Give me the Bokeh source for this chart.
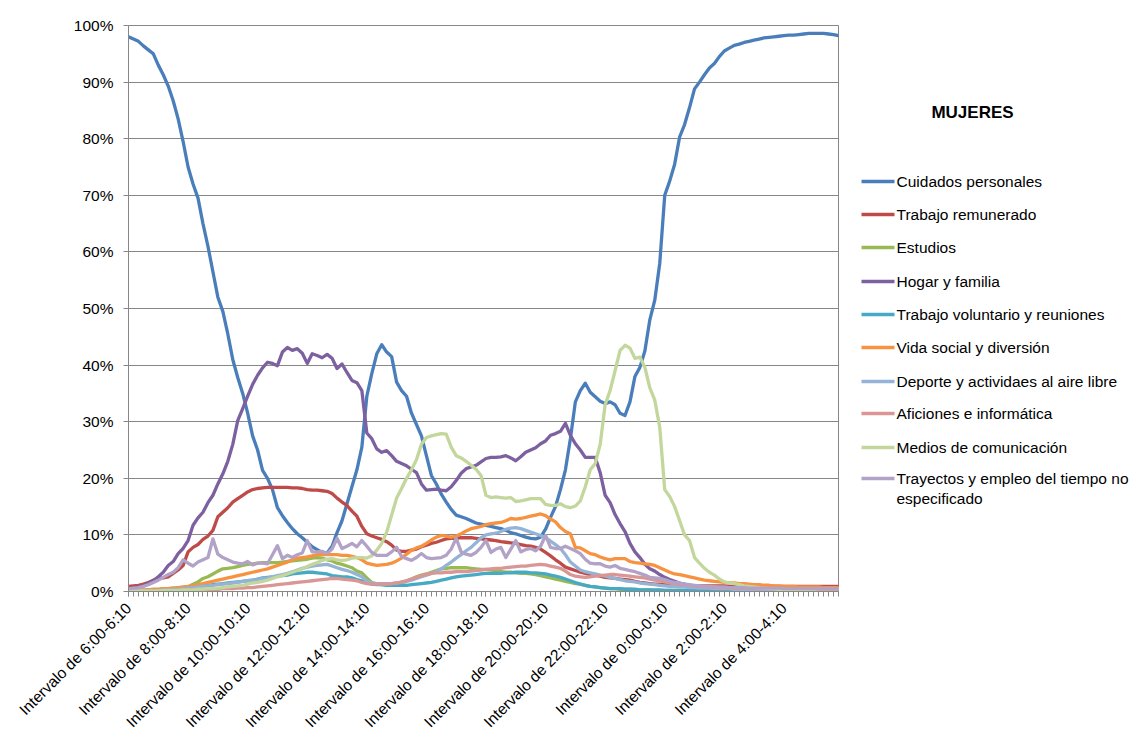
from math import pi
from bokeh.plotting import figure
from bokeh.layouts import row
from bokeh.models import Range1d, FixedTicker, PrintfTickFormatter
from bokeh.core.properties import value
from bokeh.embed import file_html
from bokeh.resources import INLINE

# 144 ten-minute intervals from 6:00 to 5:50 (index 0..143); labels every 2 hours
tick_positions = [0, 12, 24, 36, 48, 60, 72, 84, 96, 108, 120, 132]
tick_labels = ["Intervalo de 6:00-6:10", "Intervalo de 8:00-8:10", "Intervalo de 10:00-10:10",
               "Intervalo de 12:00-12:10", "Intervalo de 14:00-14:10", "Intervalo de 16:00-16:10",
               "Intervalo de 18:00-18:10", "Intervalo de 20:00-20:10", "Intervalo de 22:00-22:10",
               "Intervalo de 0:00-0:10", "Intervalo de 2:00-2:10", "Intervalo de 4:00-4:10"]

cuidados = [
    98.0, 97.6, 97.2, 96.4, 95.7, 95.0, 93.0, 91.3, 89.3, 86.7, 83.5, 79.5,
    75.0, 72.0, 69.5, 65.0, 61.0, 56.5, 52.0, 49.5, 45.5, 41.0, 37.8, 35.0,
    31.5, 27.5, 25.0, 21.4, 20.0, 18.0, 14.8, 13.4, 12.2, 11.1, 10.2, 9.5,
    8.7, 7.9, 7.4, 6.9, 6.8, 8.0, 10.4, 12.5, 15.5, 18.5, 21.5, 25.5,
    34.5, 38.5, 42.0, 43.6, 42.3, 41.5, 37.0, 35.5, 34.5, 31.5, 29.5, 27.5,
    24.0, 20.5, 19.0, 17.2, 15.8, 14.5, 13.5, 13.2, 12.9, 12.5, 12.1, 11.9,
    11.7, 11.5, 11.3, 11.1, 10.8, 10.4, 10.2, 9.9, 9.6, 9.4, 9.3, 9.6,
    11.0, 13.1, 15.0, 18.0, 21.5, 27.0, 33.5, 35.5, 36.8, 35.2, 34.4, 33.6,
    33.2, 33.5, 33.0, 31.5, 31.1, 33.5, 38.0, 39.6, 42.5, 48.0, 51.5, 58.0,
    70.0, 72.5, 75.5, 80.3, 82.5, 85.5, 88.8, 90.0, 91.3, 92.5, 93.3, 94.5,
    95.5, 96.0, 96.5, 96.7, 97.0, 97.2, 97.4, 97.6, 97.8, 97.9, 98.0, 98.1,
    98.2, 98.3, 98.3, 98.4, 98.5, 98.6, 98.6, 98.6, 98.6, 98.5, 98.4, 98.2]

trabajo = [
    0.9, 1.0, 1.1, 1.3, 1.6, 2.0, 2.3, 2.4, 2.6, 3.2, 3.8, 4.6,
    7.0, 7.8, 8.3, 9.2, 9.8, 10.8, 13.2, 14.0, 14.8, 15.8, 16.4, 17.0,
    17.6, 18.0, 18.2, 18.3, 18.4, 18.4, 18.4, 18.4, 18.4, 18.3, 18.3, 18.2,
    18.0, 17.9, 17.9, 17.8, 17.7, 17.3, 16.5, 15.8, 15.2, 14.2, 13.3, 11.5,
    10.2, 9.8, 9.5, 9.2, 8.8, 8.2, 7.3, 7.1, 7.1, 7.3, 7.5, 7.9,
    8.2, 8.5, 8.7, 9.0, 9.3, 9.4, 9.4, 9.5, 9.5, 9.5, 9.4, 9.3,
    9.2, 9.1, 9.0, 8.8, 8.7, 8.6, 8.5, 8.3, 8.1, 8.0, 7.8, 7.5,
    6.9, 6.3, 5.6, 5.0, 4.3, 4.0, 3.7, 3.4, 3.2, 3.0, 2.9, 2.7,
    2.5, 2.4, 2.3, 2.2, 2.1, 2.0, 1.8, 1.6, 1.5, 1.4, 1.3, 1.3,
    1.2, 1.2, 1.1, 1.1, 1.1, 1.1, 1.0, 1.0, 1.0, 1.0, 1.0, 1.0,
    1.0, 0.9, 0.9, 0.9, 0.9, 0.9, 0.9, 0.9, 0.9, 0.9, 0.9, 0.9,
    0.9, 0.9, 0.9, 0.9, 0.9, 0.9, 0.9, 0.9, 0.9, 0.9, 0.9, 0.9]

estudios = [
    0.1, 0.1, 0.1, 0.2, 0.2, 0.3, 0.3, 0.4, 0.5, 0.6, 0.6, 0.7,
    0.8, 1.3, 1.7, 2.3, 2.6, 3.1, 3.6, 4.0, 4.1, 4.2, 4.4, 4.6,
    4.8, 4.9, 5.0, 5.1, 5.1, 5.1, 5.1, 5.2, 5.3, 5.4, 5.5, 5.6,
    5.7, 5.9, 6.0, 5.9, 5.6, 5.4, 5.0, 4.8, 4.5, 4.2, 3.6, 3.3,
    2.4, 1.6, 1.3, 1.2, 1.2, 1.3, 1.4, 1.6, 1.9, 2.2, 2.6, 2.9,
    3.1, 3.4, 3.7, 4.0, 4.1, 4.2, 4.2, 4.2, 4.2, 4.1, 4.0, 3.9,
    3.9, 3.8, 3.6, 3.5, 3.4, 3.4, 3.3, 3.2, 3.2, 3.1, 3.0, 2.8,
    2.6, 2.4, 2.2, 2.0, 1.8, 1.6, 1.4, 1.3, 1.1, 0.9, 0.8, 0.7,
    0.6, 0.5, 0.5, 0.4, 0.4, 0.4, 0.3, 0.3, 0.3, 0.3, 0.2, 0.2,
    0.2, 0.2, 0.2, 0.2, 0.2, 0.2, 0.2, 0.2, 0.1, 0.1, 0.1, 0.1,
    0.1, 0.1, 0.1, 0.1, 0.1, 0.1, 0.1, 0.1, 0.1, 0.1, 0.1, 0.1,
    0.1, 0.1, 0.1, 0.1, 0.1, 0.1, 0.1, 0.1, 0.1, 0.1, 0.1, 0.1]

hogar = [
    0.5, 0.6, 0.8, 1.0, 1.5, 1.9, 2.6, 3.4, 4.6, 5.3, 6.7, 7.6,
    9.0, 11.7, 13.0, 14.0, 15.7, 17.0, 19.0, 20.8, 23.0, 26.0, 30.2, 32.3,
    34.5, 36.6, 38.2, 39.5, 40.5, 40.3, 39.9, 42.3, 43.1, 42.6, 42.9, 42.1,
    40.3, 42.0, 41.7, 41.3, 41.9, 41.2, 39.4, 40.2, 38.7, 37.3, 36.9, 35.5,
    28.0, 27.0, 25.2, 24.6, 24.9, 24.0, 23.0, 22.6, 22.2, 21.6, 21.0, 19.0,
    17.9, 18.0, 18.1, 17.9, 17.8, 18.5, 19.6, 20.9, 21.7, 22.0, 22.3, 22.9,
    23.5, 23.7, 23.7, 23.8, 24.0, 23.6, 23.1, 23.8, 24.6, 25.0, 25.4, 26.1,
    26.6, 27.6, 27.9, 28.3, 29.7, 27.6, 26.1, 25.0, 23.7, 23.7, 23.7, 21.0,
    17.0, 15.7, 13.6, 12.0, 10.6, 8.5, 7.0, 6.0, 4.8, 4.0, 3.6, 3.0,
    2.5, 2.1, 1.8, 1.5, 1.3, 1.1, 0.9, 0.7, 0.6, 0.6, 0.5, 0.5,
    0.5, 0.4, 0.4, 0.4, 0.4, 0.4, 0.3, 0.3, 0.3, 0.3, 0.3, 0.3,
    0.3, 0.3, 0.3, 0.3, 0.3, 0.3, 0.3, 0.3, 0.3, 0.3, 0.3, 0.3]

voluntario = [
    0.2, 0.2, 0.2, 0.2, 0.3, 0.3, 0.3, 0.4, 0.4, 0.5, 0.5, 0.5,
    0.6, 0.7, 0.8, 1.0, 1.1, 1.2, 1.3, 1.4, 1.5, 1.6, 1.7, 1.8,
    1.9, 2.0, 2.2, 2.4, 2.5, 2.6, 2.7, 2.8, 2.9, 3.1, 3.2, 3.3,
    3.4, 3.4, 3.3, 3.2, 3.1, 2.8, 2.7, 2.6, 2.6, 2.4, 2.1, 1.9,
    1.5, 1.3, 1.2, 1.2, 1.1, 1.1, 1.1, 1.1, 1.1, 1.2, 1.3, 1.4,
    1.5, 1.6, 1.8, 2.0, 2.2, 2.4, 2.6, 2.7, 2.8, 2.9, 3.0, 3.1,
    3.2, 3.2, 3.2, 3.2, 3.3, 3.3, 3.4, 3.4, 3.4, 3.3, 3.3, 3.2,
    3.1, 2.9, 2.7, 2.5, 2.2, 1.9, 1.6, 1.3, 1.1, 0.9, 0.8, 0.7,
    0.6, 0.5, 0.5, 0.5, 0.4, 0.4, 0.4, 0.3, 0.3, 0.3, 0.3, 0.3,
    0.2, 0.2, 0.2, 0.2, 0.2, 0.2, 0.2, 0.2, 0.2, 0.2, 0.2, 0.2,
    0.2, 0.2, 0.2, 0.2, 0.2, 0.2, 0.2, 0.2, 0.2, 0.2, 0.2, 0.2,
    0.2, 0.2, 0.2, 0.2, 0.2, 0.2, 0.2, 0.2, 0.2, 0.2, 0.2, 0.2]

vida_social = [
    0.3, 0.3, 0.3, 0.3, 0.3, 0.4, 0.4, 0.5, 0.5, 0.6, 0.7, 0.8,
    0.9, 1.0, 1.2, 1.4, 1.6, 1.8, 2.0, 2.2, 2.4, 2.6, 2.8, 3.0,
    3.2, 3.4, 3.6, 3.8, 4.0, 4.3, 4.6, 4.9, 5.2, 5.6, 5.9, 6.0,
    6.1, 6.3, 6.5, 6.5, 6.5, 6.5, 6.5, 6.4, 6.4, 6.2, 6.0, 5.6,
    5.0, 4.8, 4.6, 4.7, 4.8, 5.0, 5.4, 5.9, 6.6, 7.3, 7.7, 8.0,
    8.5, 9.1, 9.6, 9.9, 9.8, 9.6, 9.8, 10.2, 10.7, 11.1, 11.3, 11.5,
    11.8, 12.0, 12.1, 12.2, 12.5, 12.9, 12.8, 12.9, 13.1, 13.3, 13.5, 13.7,
    13.4, 12.8, 12.3, 11.3, 10.6, 10.2, 7.8, 7.7, 7.2, 6.7, 6.5, 6.1,
    5.8, 5.6, 5.8, 5.8, 5.8, 5.3, 5.1, 5.0, 4.9, 4.8, 4.6, 4.2,
    3.8, 3.4, 3.1, 3.0, 2.8, 2.6, 2.4, 2.2, 2.0, 1.9, 1.8, 1.7,
    1.6, 1.5, 1.5, 1.4, 1.4, 1.3, 1.2, 1.2, 1.1, 1.1, 1.0, 1.0,
    0.9, 0.9, 0.9, 0.8, 0.8, 0.8, 0.8, 0.8, 0.7, 0.7, 0.7, 0.7]

deporte = [
    0.1, 0.1, 0.1, 0.1, 0.2, 0.2, 0.2, 0.3, 0.3, 0.4, 0.4, 0.5,
    0.6, 0.7, 0.8, 0.9, 1.0, 1.1, 1.2, 1.3, 1.4, 1.5, 1.6, 1.8,
    1.9, 2.0, 2.1, 2.3, 2.4, 2.6, 2.8, 3.0, 3.2, 3.5, 3.8, 4.1,
    4.3, 4.5, 4.6, 4.7, 4.8, 4.5, 4.2, 3.9, 3.7, 3.4, 3.0, 2.6,
    1.8, 1.5, 1.4, 1.4, 1.4, 1.4, 1.5, 1.6, 1.8, 2.0, 2.3, 2.6,
    2.9, 3.2, 3.5, 4.0, 4.6, 5.2, 5.9, 6.5, 7.2, 7.8, 8.6, 9.5,
    10.0, 10.2, 10.3, 10.6, 11.0, 11.2, 11.3, 11.1, 10.8, 10.5, 10.2, 9.9,
    9.5, 8.9, 8.3, 7.6, 6.5, 5.2, 4.5, 3.8, 3.5, 3.3, 3.1, 2.9,
    2.7, 2.5, 2.3, 2.1, 1.9, 1.8, 1.7, 1.5, 1.4, 1.3, 1.2, 1.1,
    1.0, 0.9, 0.9, 0.8, 0.8, 0.7, 0.7, 0.6, 0.6, 0.6, 0.5, 0.5,
    0.5, 0.5, 0.4, 0.4, 0.4, 0.4, 0.4, 0.4, 0.3, 0.3, 0.3, 0.3,
    0.3, 0.3, 0.3, 0.3, 0.3, 0.3, 0.3, 0.3, 0.3, 0.3, 0.3, 0.3]

aficiones = [
    0.1, 0.1, 0.1, 0.1, 0.1, 0.1, 0.1, 0.2, 0.2, 0.2, 0.2, 0.2,
    0.3, 0.3, 0.3, 0.3, 0.4, 0.4, 0.4, 0.5, 0.5, 0.5, 0.6, 0.6,
    0.7, 0.7, 0.8, 0.9, 1.0, 1.1, 1.2, 1.3, 1.4, 1.5, 1.6, 1.7,
    1.8, 1.9, 2.0, 2.1, 2.2, 2.3, 2.3, 2.2, 2.1, 2.0, 1.9, 1.6,
    1.4, 1.3, 1.3, 1.3, 1.3, 1.4, 1.5, 1.7, 1.9, 2.2, 2.5, 2.8,
    3.0, 3.2, 3.3, 3.3, 3.4, 3.4, 3.5, 3.5, 3.5, 3.6, 3.7, 3.8,
    3.9, 4.0, 4.1, 4.1, 4.2, 4.3, 4.4, 4.5, 4.5, 4.6, 4.7, 4.8,
    4.7, 4.5, 4.3, 4.1, 3.6, 3.0, 2.7, 2.6, 2.5, 2.6, 2.7, 2.8,
    2.9, 3.0, 3.0, 2.9, 2.8, 2.7, 2.6, 2.5, 2.4, 2.2, 2.0, 1.9,
    1.7, 1.5, 1.4, 1.3, 1.2, 1.1, 1.0, 0.9, 0.9, 0.8, 0.8, 0.7,
    0.7, 0.7, 0.6, 0.6, 0.6, 0.6, 0.5, 0.5, 0.5, 0.5, 0.5, 0.5,
    0.5, 0.5, 0.5, 0.5, 0.4, 0.4, 0.4, 0.4, 0.4, 0.4, 0.4, 0.4]

medios = [
    0.1, 0.1, 0.1, 0.1, 0.1, 0.1, 0.1, 0.2, 0.2, 0.2, 0.2, 0.3,
    0.3, 0.3, 0.4, 0.4, 0.5, 0.5, 0.6, 0.7, 0.8, 0.9, 1.0, 1.1,
    1.3, 1.5, 1.6, 1.8, 2.0, 2.3, 2.6, 2.8, 3.1, 3.4, 3.7, 4.0,
    4.4, 4.8, 5.1, 5.5, 5.7, 5.8, 5.6, 5.5, 5.6, 5.9, 6.0, 6.0,
    5.9, 6.3, 7.3, 8.5, 10.5, 13.5, 16.5, 18.2, 20.0, 21.5, 23.3, 26.0,
    27.2, 27.5, 27.7, 27.9, 27.8, 25.5, 24.0, 23.6, 23.0, 22.3, 21.6, 20.5,
    17.0, 16.6, 16.7, 16.6, 16.5, 16.6, 15.9, 16.0, 16.2, 16.4, 16.4, 16.4,
    15.4, 15.2, 15.2, 15.5, 15.0, 14.8, 15.1, 16.0, 18.5, 21.5, 22.6, 26.0,
    33.0, 35.5, 39.0, 42.6, 43.5, 43.0, 41.2, 41.4, 39.6, 36.0, 33.8, 29.0,
    18.0, 16.8, 15.0, 12.5, 10.0, 9.0, 6.0, 5.0, 4.1, 3.4, 2.9, 2.2,
    1.7, 1.5, 1.4, 1.2, 1.0, 0.9, 0.8, 0.7, 0.6, 0.5, 0.5, 0.4,
    0.4, 0.4, 0.4, 0.4, 0.4, 0.4, 0.4, 0.5, 0.5, 0.5, 0.5, 0.5]

trayectos = [
    0.5, 0.6, 0.7, 0.9, 1.2, 1.6, 2.0, 2.5, 3.0, 3.4, 4.2, 5.6,
    5.0, 4.5, 5.2, 5.6, 6.0, 9.3, 6.6, 6.0, 5.6, 5.2, 5.0, 4.9,
    5.3, 4.7, 5.0, 5.0, 4.9, 6.5, 8.1, 5.8, 6.4, 6.0, 6.5, 6.8,
    9.0, 7.0, 7.0, 7.1, 6.7, 7.5, 9.4, 7.6, 8.0, 8.5, 7.9, 9.0,
    8.0, 6.9, 6.4, 6.4, 6.4, 7.0, 7.8, 6.2, 5.8, 5.5, 6.0, 6.7,
    6.0, 5.8, 5.9, 6.0, 6.4, 7.5, 9.4, 7.0, 6.6, 6.4, 6.9, 7.8,
    9.0, 6.9, 7.5, 7.8, 6.0, 7.5, 9.0, 7.0, 7.4, 7.6, 7.2, 8.0,
    9.9, 7.8, 7.6, 7.6, 8.0, 7.6, 7.2, 6.7, 5.7, 5.0, 4.9, 4.9,
    4.5, 4.3, 4.6, 4.1, 3.9, 3.7, 3.5, 3.2, 2.9, 2.5, 2.4, 2.3,
    2.1, 1.8, 1.6, 1.5, 1.3, 1.2, 1.1, 1.0, 0.9, 0.9, 0.8, 0.8,
    0.8, 0.7, 0.7, 0.7, 0.7, 0.6, 0.6, 0.6, 0.6, 0.6, 0.6, 0.6,
    0.5, 0.5, 0.5, 0.5, 0.5, 0.5, 0.5, 0.5, 0.5, 0.5, 0.5, 0.5]

series_names = ["Cuidados personales", "Trabajo remunerado", "Estudios", "Hogar y familia",
                "Trabajo voluntario y reuniones", "Vida social y diversión",
                "Deporte y actividaes al aire libre", "Aficiones e informática",
                "Medios de comunicación", "Trayectos y empleo del tiempo no"]
last_label_continuation = "especificado"
legend_title = "MUJERES"
series_values = [cuidados, trabajo, estudios, hogar, voluntario, vida_social,
                 deporte, aficiones, medios, trayectos]
series_colors = ["#4A7EBB", "#BE4B48", "#98B954", "#7D60A0", "#46AAC5", "#F69240",
                 "#95B3D7", "#D99694", "#C3D69B", "#B3A2C7"]

FONT = "Liberation Sans"
GRID = "#878787"
LW = 3.3
TOP, FRAME_H, BOTTOM = 25, 566, 142

# ---------------- main chart ----------------
p = figure(frame_width=710, frame_height=FRAME_H,
           x_range=Range1d(0, 143), y_range=Range1d(0, 100),
           output_backend="svg", toolbar_location=None,
           min_border_left=128, min_border_right=1,
           min_border_top=TOP, min_border_bottom=BOTTOM)
p.background_fill_color = "white"
p.border_fill_color = "white"
p.outline_line_color = GRID
p.outline_line_width = 1

x_idx = list(range(len(cuidados)))
for vals, col in zip(series_values, series_colors):
    p.line(x_idx, vals, line_color=col, line_width=LW, line_join="round", line_cap="round")

p.xaxis.ticker = FixedTicker(ticks=tick_positions, minor_ticks=x_idx)
p.xaxis.major_label_overrides = {t: l for t, l in zip(tick_positions, tick_labels)}
p.xaxis.major_label_orientation = pi / 4
p.xaxis.major_label_text_font = FONT
p.xaxis.major_label_text_font_size = "15.5px"
p.xaxis.major_label_text_color = "black"
p.xaxis.major_tick_in = 0
p.xaxis.major_tick_out = 5
p.xaxis.minor_tick_in = 0
p.xaxis.minor_tick_out = 5
p.xaxis.major_label_standoff = 9
p.xaxis.axis_line_color = GRID
p.xaxis.major_tick_line_color = GRID
p.xaxis.minor_tick_line_color = GRID
p.xgrid.visible = False

p.yaxis.ticker = FixedTicker(ticks=[0, 10, 20, 30, 40, 50, 60, 70, 80, 90, 100], minor_ticks=[])
p.yaxis.formatter = PrintfTickFormatter(format="%d%%")
p.yaxis.major_label_text_font = FONT
p.yaxis.major_label_text_font_size = "15.5px"
p.yaxis.major_label_text_color = "black"
p.yaxis.major_tick_in = 0
p.yaxis.major_tick_out = 5
p.yaxis.major_label_standoff = 10
p.yaxis.axis_line_color = GRID
p.yaxis.major_tick_line_color = GRID
p.ygrid.grid_line_color = GRID
p.ygrid.grid_line_width = 1

# ---------------- legend panel: frame aligned with the chart frame; units = page pixels ----------------
LEG_W = 1131 - 838 - 1
q = figure(frame_width=LEG_W, frame_height=FRAME_H,
           x_range=Range1d(838, 838 + LEG_W), y_range=Range1d(TOP + FRAME_H, TOP),
           output_backend="svg", toolbar_location=None,
           x_axis_type=None, y_axis_type=None,
           min_border_left=0, min_border_right=0,
           min_border_top=TOP, min_border_bottom=BOTTOM)
q.outline_line_color = None
q.grid.visible = False
q.background_fill_color = "white"
q.border_fill_color = "white"

row_y = [181, 214, 247, 281, 314, 347, 381, 413, 447, 478]
q.segment(x0=[860] * len(row_y), y0=row_y, x1=[893] * len(row_y), y1=row_y,
          line_color=series_colors, line_width=LW)
q.text(x=[895] * len(row_y), y=row_y, text=series_names, text_font=value(FONT),
       text_font_size="15.5px", text_color="black", text_align="left", text_baseline="middle")
q.text(x=[895], y=[498], text=[last_label_continuation], text_font=value(FONT),
       text_font_size="15.5px", text_color="black", text_align="left", text_baseline="middle")
q.text(x=[971], y=[112], text=[legend_title], text_font=value(FONT),
       text_font_size="17px", text_font_style="bold", text_color="black",
       text_align="center", text_baseline="middle")

layout = row(p, q, spacing=0)
open("out.html", "w").write(file_html(layout, INLINE))
